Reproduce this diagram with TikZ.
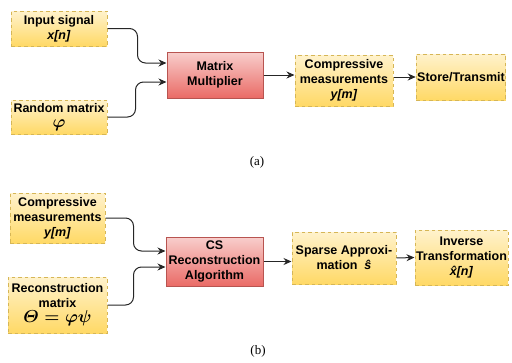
\documentclass[tikz,border=0pt]{standalone}
\usepackage{amsmath}
\usepackage{fontspec}
\setmainfont{Liberation Serif}
\setsansfont{Liberation Sans}
\usetikzlibrary{arrows.meta,calc}
\definecolor{sigfill}{HTML}{FFF2CC}
\definecolor{sigshade}{HTML}{FFD966}
\definecolor{sigline}{HTML}{D6B656}
\definecolor{procfill}{HTML}{F8CECC}
\definecolor{procshade}{HTML}{EA6B66}
\definecolor{procline}{HTML}{B85450}
\newcommand{\boxfont}{\sffamily\bfseries\fontsize{12.5}{15}\selectfont}
\newcommand{\bigsym}[1]{{\fontsize{17.5}{17}\selectfont$\boldsymbol{#1}$}}
\tikzset{
  sig/.style={draw=sigline, dash pattern=on 3.5pt off 3pt, line width=1pt,
    top color=sigfill, bottom color=sigshade, align=center, inner sep=1pt,
    font=\boxfont},
  proc/.style={draw=procline, line width=1pt, top color=procfill,
    bottom color=procshade, align=center, inner sep=1pt, font=\boxfont},
  conn/.style={-{Stealth[length=8pt,width=7pt]}, line width=1pt,
    rounded corners=8pt, draw=black!85},
  subcap/.style={font=\rmfamily\fontsize{13}{15}\selectfont}
}
\begin{document}
\begin{tikzpicture}[x=1pt,y=-1pt]
  \useasboundingbox (0,0) rectangle (512,362);
  % (a) acquisition
  \node[sig, minimum width=96pt, minimum height=35pt] (inA) at (59,28.5)
    {Input signal\\ \textit{x[n]}};
  \node[sig, minimum width=96pt, minimum height=34pt] (phiA) at (59,117)
    {Random matrix\\ \bigsym{\varphi}};
  \node[proc, minimum width=96pt, minimum height=46pt] (mult) at (215,75)
    {Matrix\\ Multiplier};
  \node[sig, minimum width=98pt, minimum height=51pt] (measA) at (344,80.5)
    {Compressive\\ measurements\\ \textit{y[m]}};
  \node[sig, minimum width=88pt, minimum height=46pt] (store) at (461,77)
    {Store/Transmit};
  \draw[conn] (inA.east) -- ++(30,0) |- ($(mult.west)+(0,-12)$);
  \draw[conn] (phiA.east) -- ++(28,0) |- ($(mult.west)+(0,7)$);
  \draw[conn] (mult.east) -- (mult.east -| measA.west);
  \draw[conn] (store.west -| measA.east) -- (store.west);
  \node[subcap] (capA) at (257,162) {(a)};
  % (b) reconstruction
  \node[sig, minimum width=95pt, minimum height=50pt] (measB) at (57.5,218)
    {Compressive\\ measurements\\ \textit{y[m]}};
  \node[sig, minimum width=99pt, minimum height=56pt] (recB) at (57.5,305)
    {Reconstruction\\ matrix\\ \bigsym{\varTheta=\varphi\psi}};
  \node[proc, minimum width=97pt, minimum height=49pt] (csB) at (214.5,261.5)
    {CS\\ Reconstruction\\ Algorithm};
  \node[sig, minimum width=104pt, minimum height=52pt] (sparse) at (344,258)
    {Sparse Approxi-\\ mation \ \textit{\^{s}}};
  \node[sig, minimum width=93pt, minimum height=55pt] (inv) at (461.5,257.5)
    {Inverse\\ Transformation\\ \textit{\^{x}[n]}};
  \draw[conn] (measB.east) -- ++(28,0) |- ($(csB.west)+(0,-10.5)$);
  \draw[conn] (recB.east) -- ++(26,0) |- ($(csB.west)+(0,5.5)$);
  \draw[conn] (csB.east) -- (csB.east -| sparse.west);
  \draw[conn] (sparse.east) -- (inv.west);
  \node[subcap] (capB) at (258,351) {(b)};
\end{tikzpicture}
\end{document}
